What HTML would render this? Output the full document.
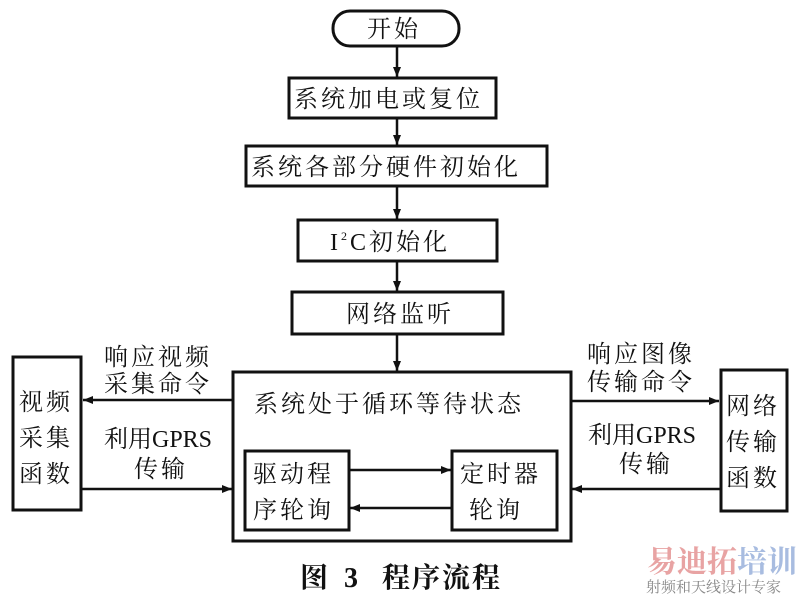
<!DOCTYPE html>
<html><head><meta charset="utf-8"><style>
body{margin:0;background:#fff;}
svg text{font-family:"Liberation Serif","Noto Serif CJK SC","Noto Sans CJK SC",serif;fill:#111;}
</style></head><body>
<svg width="801" height="596" viewBox="0 0 801 596" xmlns="http://www.w3.org/2000/svg">
<defs><marker id="a" markerWidth="10" markerHeight="8" refX="10" refY="4" orient="auto" markerUnits="userSpaceOnUse"><path d="M0,0 L10,4 L0,8z" fill="#111"/></marker></defs>
<g fill="none" stroke="#111" stroke-width="3">
<rect x="333" y="11" width="126" height="35" rx="17"/>
<rect x="289" y="78" width="207" height="40"/>
<rect x="246" y="146" width="301" height="40"/>
<rect x="298" y="220" width="199" height="41"/>
<rect x="292" y="292" width="211" height="42"/>
<rect x="233" y="372" width="338" height="169"/>
<rect x="13" y="357" width="68" height="153"/>
<rect x="721" y="370" width="66" height="141"/>
<rect x="245" y="451" width="104" height="79"/>
<rect x="452" y="451" width="105" height="79"/>
</g>
<g stroke="#111" stroke-width="2.5" marker-end="url(#a)">
<line x1="397" y1="46" x2="397" y2="77"/>
<line x1="397" y1="118" x2="397" y2="145"/>
<line x1="397" y1="186" x2="397" y2="219"/>
<line x1="397" y1="261" x2="397" y2="291"/>
<line x1="397" y1="334" x2="397" y2="371"/>
<line x1="233" y1="400" x2="83" y2="400"/>
<line x1="82" y1="489" x2="232" y2="489"/>
<line x1="571" y1="401" x2="719" y2="401"/>
<line x1="720" y1="489" x2="572" y2="489"/>
<line x1="349" y1="470" x2="451" y2="470"/>
<line x1="452" y1="508" x2="350" y2="508"/>
</g>
<g font-size="24" letter-spacing="3">
<text x="367" y="37">开始</text>
<text x="294" y="107">系统加电或复位</text>
<text x="251" y="175">系统各部分硬件初始化</text>
<text x="330" y="250">I<tspan font-size="12" dy="-10">2</tspan><tspan dy="10">C初始化</tspan></text>
<text x="346" y="322">网络监听</text>
<text x="254" y="412">系统处于循环等待状态</text>
<text x="253" y="482">驱动程</text><text x="253" y="518">序轮询</text>
<text x="460" y="482">定时器</text><text x="469" y="518">轮询</text>
<text x="19" y="410">视频</text><text x="19" y="446">采集</text><text x="19" y="482">函数</text>
<text x="726" y="414">网络</text><text x="726" y="450">传输</text><text x="726" y="486">函数</text>
<text x="104" y="365">响应视频</text><text x="104" y="392">采集命令</text>
<text x="104" y="447" letter-spacing="0">利用GPRS</text><text x="134" y="477">传输</text>
<text x="587" y="362">响应图像</text><text x="587" y="390">传输命令</text>
<text x="588" y="443" letter-spacing="0">利用GPRS</text><text x="619" y="472">传输</text>
</g>
<g font-size="28" font-weight="bold">
<text x="300" y="587">图</text><text x="344" y="587">3</text><text x="382" y="587" letter-spacing="2">程序流程</text>
</g>
<text x="647" y="572" font-size="30" font-weight="bold" style="fill:#e8a3a3">易迪拓<tspan style="fill:#a8bce0">培训</tspan></text>
<text x="646" y="592" font-size="15" style="fill:#888">射频和天线设计专家</text>
</svg>
</body></html>
